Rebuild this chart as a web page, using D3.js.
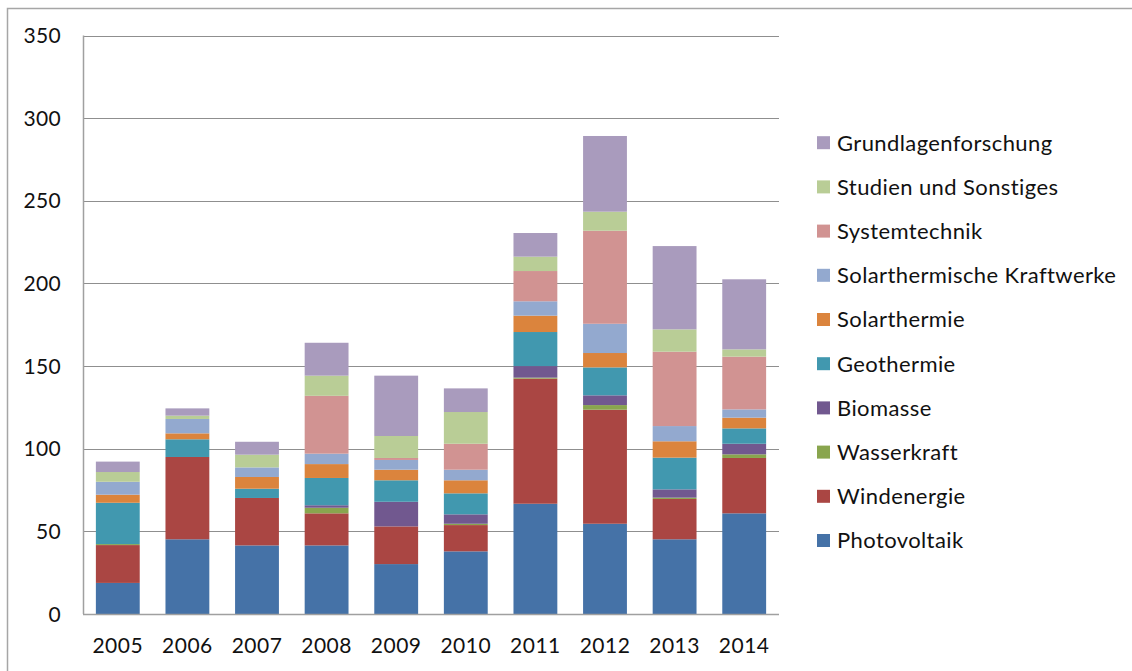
<!DOCTYPE html>
<html>
<head>
<meta charset="utf-8">
<script src="https://cdn.jsdelivr.net/npm/d3@7"></script>
<style>
  html, body { margin: 0; padding: 0; background: #fff; }
  svg { display: block; font-family: Lato, "Open Sans", sans-serif; }
</style>
</head>
<body>
<svg id="chart" width="1132" height="671"></svg>
<script>
const years = ["2005","2006","2007","2008","2009","2010","2011","2012","2013","2014"];
const photovoltaik      = [18.8, 45.2, 41.5, 41.5, 30.2, 37.9, 66.7, 54.6, 45.2, 60.9];
const windenergie       = [22.9, 49.8, 28.7, 19.4, 22.8, 15.9, 75.7, 69.0, 24.4, 33.5];
const wasserkraft       = [0.6, 0, 0, 3.4, 0, 0.8, 0.6, 2.8, 0.8, 2.2];
const biomasse          = [0, 0, 0, 1.5, 14.9, 5.7, 7.0, 5.9, 5.0, 6.4];
const geothermie        = [25.0, 10.7, 5.6, 16.5, 13.0, 12.7, 20.6, 16.9, 19.2, 9.3];
const solarthermie      = [4.9, 3.6, 7.1, 8.4, 6.4, 7.9, 9.9, 8.7, 9.9, 6.5];
const solarKraftwerke   = [7.8, 8.7, 5.8, 6.3, 5.9, 6.4, 8.7, 17.7, 9.2, 5.0];
const systemtechnik     = [0, 0, 0, 35.0, 1.2, 15.7, 18.3, 56.3, 45.0, 31.9];
const studien           = [5.9, 2.0, 7.7, 12.2, 13.3, 19.2, 8.7, 11.5, 13.5, 4.4];
const grundlagen        = [6.3, 4.4, 7.8, 19.9, 36.5, 14.3, 14.3, 45.8, 50.4, 42.4];
const seriesNames = ["Photovoltaik","Windenergie","Wasserkraft","Biomasse","Geothermie","Solarthermie","Solarthermische Kraftwerke","Systemtechnik","Studien und Sonstiges","Grundlagenforschung"];
const seriesValues = [photovoltaik, windenergie, wasserkraft, biomasse, geothermie, solarthermie, solarKraftwerke, systemtechnik, studien, grundlagen];
const colors = ["#4572A7","#AA4643","#89A54E","#71588F","#4198AF","#DB843D","#93A9CF","#D19392","#B9CD96","#A99BBD"];
const yTicks = [0, 50, 100, 150, 200, 250, 300, 350];

const svg = d3.select("#chart");
const m = { left: 83, right: 779, top: 35.5, bottom: 614 };

// outer frame
svg.append("rect").attr("x", 7.5).attr("y", 8.5).attr("width", 1140).attr("height", 700)
  .attr("fill", "none").attr("stroke", "#a6a6a6").attr("stroke-width", 1.5);

const x = d3.scaleBand().domain(years).range([m.left, m.right]).paddingInner(0.37).paddingOuter(0.185);
const y = d3.scaleLinear().domain([0, 350]).range([m.bottom, m.top]);

// gridlines
svg.append("g").selectAll("line").data(yTicks.filter(d => d > 0)).join("line")
  .attr("x1", m.left).attr("x2", m.right)
  .attr("y1", d => Math.round(y(d)) + 0.5).attr("y2", d => Math.round(y(d)) + 0.5)
  .attr("stroke", "#8f8f8f").attr("stroke-width", 1);

// stacked data
const table = years.map((yr, i) => {
  const o = { year: yr };
  seriesNames.forEach((s, k) => o[s] = seriesValues[k][i]);
  return o;
});
const stack = d3.stack().keys(seriesNames)(table);

svg.append("g").selectAll("g").data(stack).join("g")
  .attr("fill", (d, i) => colors[i])
  .selectAll("rect").data(d => d).join("rect")
  .attr("x", d => x(d.data.year))
  .attr("width", x.bandwidth())
  .attr("y", d => y(d[1]))
  .attr("height", d => Math.max(0, y(d[0]) - y(d[1])));

// axes lines
svg.append("line").attr("x1", m.left + 0.5).attr("x2", m.left + 0.5).attr("y1", m.top).attr("y2", m.bottom)
  .attr("stroke", "#a0a0a0").attr("stroke-width", 1.5);
svg.append("line").attr("x1", m.left).attr("x2", m.right).attr("y1", m.bottom + 0.5).attr("y2", m.bottom + 0.5)
  .attr("stroke", "#a0a0a0").attr("stroke-width", 1.5);

// y tick labels
svg.append("g").selectAll("text").data(yTicks).join("text")
  .attr("x", 61).attr("y", d => y(d)).attr("dy", "0.36em")
  .attr("text-anchor", "end").attr("font-size", 21).attr("letter-spacing", 0.3).attr("fill", "#111")
  .text(d => d);

// x tick labels
svg.append("g").selectAll("text").data(years).join("text")
  .attr("x", d => x(d) + x.bandwidth() / 2).attr("y", 653)
  .attr("text-anchor", "middle").attr("font-size", 21).attr("letter-spacing", 0.5).attr("fill", "#111")
  .text(d => d);

// legend (top entry = last series)
const legendOrder = seriesNames.map((s, i) => i).reverse();
const lg = svg.append("g").selectAll("g").data(legendOrder).join("g")
  .attr("transform", (d, i) => `translate(817, ${142.7 + i * 44.2})`);
lg.append("rect").attr("x", 0).attr("y", -6.5).attr("width", 13).attr("height", 13)
  .attr("fill", d => colors[d]);
lg.append("text").attr("x", 20).attr("y", 0).attr("dy", "0.36em")
  .attr("font-size", 22).attr("letter-spacing", 0.4).attr("fill", "#111")
  .text(d => seriesNames[d]);
</script>
</body>
</html>
